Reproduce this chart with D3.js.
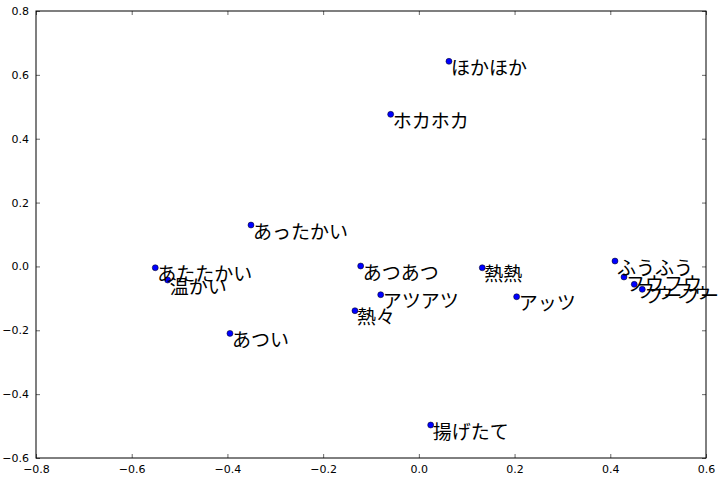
<!DOCTYPE html>
<html><head><meta charset="utf-8">
<script src="https://cdn.jsdelivr.net/npm/d3@7"></script>
<style>body{margin:0;background:#fff}</style>
</head><body><svg id="c" width="726" height="479"></svg>
<script>
const labels = ["ほかほか","ホカホカ","あったかい","あたたかい","温かい","あつい","あつあつ","アツアツ","熱々","熱熱","アッツ","揚げたて","ふうふう","フウフウ","フゥフゥ","フーフー"];
const xs = [0.0629,-0.0589,-0.3508,-0.5508,-0.5249,-0.3947,-0.1216,-0.0797,-0.1335,0.1325,0.2043,0.0247,0.4098,0.4286,0.4501,0.4668];
const ys = [0.6424,0.4763,0.1296,-0.0041,-0.0426,-0.2097,0.0013,-0.0886,-0.1387,-0.0041,-0.0949,-0.4967,0.0169,-0.0332,-0.0561,-0.0717];
const xTicks = [-0.8,-0.6,-0.4,-0.2,0.0,0.2,0.4,0.6];
const yTicks = [-0.6,-0.4,-0.2,0.0,0.2,0.4,0.6,0.8];

const svg = d3.select("#c");
const L=36, R=706, T=11, B=458;
const x = d3.scaleLinear().domain([-0.8,0.6]).range([L,R]);
const y = d3.scaleLinear().domain([-0.6,0.8]).range([B,T]);
const fmt = v => (v<0?"\u2212":"") + Math.abs(v).toFixed(1);

const plot = svg.append("g");
const data = labels.map((l,i)=>({l, x:xs[i], y:ys[i]}));
plot.selectAll("circle").data(data).join("circle")
  .attr("cx",d=>x(d.x)).attr("cy",d=>y(d.y)).attr("r",3)
  .attr("fill","#0000ff").attr("stroke","#000").attr("stroke-width",0.5);
plot.selectAll("text").data(data).join("text")
  .attr("x",d=>x(d.x)+2).attr("y",d=>y(d.y)+13.5)
  .attr("font-family","'Noto Sans CJK JP'").attr("font-size",19).attr("fill","#000")
  .text(d=>d.l);

// axes with inward ticks
const ax = svg.append("g").attr("font-family","'DejaVu Sans'").attr("font-size",11);
const xb = d3.axisBottom(x).tickValues(xTicks).tickSize(-4).tickPadding(7).tickFormat(fmt);
const xt = d3.axisTop(x).tickValues(xTicks).tickSize(-4).tickFormat("");
const yl = d3.axisLeft(y).tickValues(yTicks).tickSize(-4).tickPadding(7).tickFormat(fmt);
const yr = d3.axisRight(y).tickValues(yTicks).tickSize(-4).tickFormat("");
[ [xb,`translate(0,${B})`], [xt,`translate(0,${T})`], [yl,`translate(${L},0)`], [yr,`translate(${R},0)`] ].forEach(([a,t])=>{
  const g = ax.append("g").attr("transform",t).call(a);
  g.select(".domain").remove();
  g.selectAll("text").attr("font-family","'DejaVu Sans'").attr("font-size",11).attr("fill","#000");
});
ax.selectAll(".tick line").attr("stroke","#000").attr("stroke-width",0.6);
svg.append("rect").attr("x",L).attr("y",T).attr("width",R-L).attr("height",B-T)
  .attr("fill","none").attr("stroke","#000").attr("stroke-width",1);
</script></body></html>
